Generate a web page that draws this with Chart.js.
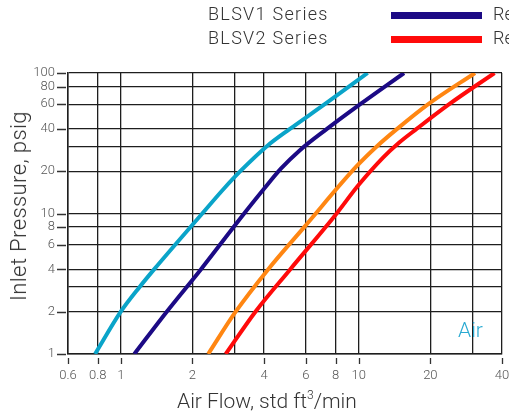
<!DOCTYPE html>
<html lang="en">
<head>
    <meta charset="UTF-8">
    <title>BLSV Air Flow</title>
    <script src="https://cdn.jsdelivr.net/npm/chart.js@4.4.0/dist/chart.umd.min.js"></script>
    <style>
        body {
            margin: 0;
            width: 509px;
            height: 416px;
            overflow: hidden;
            position: relative;
            background: #fff;
            font-family: Roboto, "Liberation Sans", Arial, sans-serif;
            font-weight: 300;
            color: #333;
        }
        canvas {
            position: absolute;
            left: 0;
            top: 0;
        }
        .txt {
            position: absolute;
            white-space: nowrap;
            line-height: 1;
        }
        .legend-line {
            position: absolute;
            height: 7px;
        }
    </style>
</head>
<body>
    <canvas id="flowChart" width="509" height="416"></canvas>

    <div class="txt" style="left:208px; top:5px; font-size:18px; letter-spacing:1.3px;">BLSV1 Series</div>
    <div class="txt" style="left:208px; top:29px; font-size:18px; letter-spacing:1.3px;">BLSV2 Series</div>
    <div class="legend-line" style="left:391px; top:12px; width:91px; background:#1c0a85;"></div>
    <div class="legend-line" style="left:391px; top:36px; width:91px; background:#ff0a0a;"></div>
    <div class="txt" style="left:493px; top:5px; font-size:18px;">Re</div>
    <div class="txt" style="left:493px; top:29px; font-size:18px;">Re</div>

    <div class="txt" style="left:458px; top:320px; font-size:21px; color:#2aaad2;">Air</div>

    <div class="txt" style="left:19px; top:206px; font-size:22px; letter-spacing:0.4px; transform:translate(-50%,-50%) rotate(-90deg);">Inlet Pressure, psig</div>
    <div class="txt" style="left:177px; top:389px; font-size:21px;">Air Flow, std ft<sup style="font-size:12px; vertical-align:9px;">3</sup>/min</div>

    <script>
        // axis ticks
        var xTickValues = [0.6, 0.8, 1, 2, 3, 4, 6, 8, 10, 20, 30, 40];
        var xTickLabels = ['0.6', '0.8', '1', '2', '', '4', '6', '8', '10', '20', '', '40'];
        var yTickValues = [1, 2, 3, 4, 6, 8, 10, 20, 30, 40, 60, 80, 100];
        var yTickLabels = ['1', '2', '', '4', '6', '8', '10', '20', '', '40', '60', '80', '100'];

        // curves (flow in scfm, pressure in psig)
        var cyanFlow = [0.78, 1.0, 1.2, 1.38, 2.2, 2.71, 3.18, 4.1, 5.14, 7.2, 10.9];
        var cyanPress = [1, 2, 3, 4, 10, 15, 20, 30, 40, 60, 100];
        var navyFlow = [1.14, 1.56, 2.17, 3.3, 4.0, 4.73, 5.63, 7.35, 10.15, 15.5];
        var navyPress = [1, 2, 4, 10, 15, 21, 28, 40, 60, 100];
        var orangeFlow = [2.33, 3.04, 4.16, 5.9, 9.8, 11.9, 14.5, 19.6, 30.8];
        var orangePress = [1, 2, 4, 8, 21.7, 30, 40, 60, 100];
        var redFlow = [2.76, 3.68, 5.15, 8.0, 10.0, 12.65, 14.8, 17.5, 24.0, 37.2];
        var redPress = [1, 2, 4, 9.8, 16, 25, 32, 40, 60, 100];

        function pts(xs, ys) {
            return xs.map(function (x, i) { return { x: x, y: ys[i] }; });
        }

        function curve(xs, ys, color) {
            return {
                data: pts(xs, ys),
                borderColor: color,
                borderWidth: 4,
                pointRadius: 0,
                cubicInterpolationMode: 'monotone',
                fill: false,
                clip: 0
            };
        }

        // small tick marks set off from the axes
        var tickMarks = {
            id: 'tickMarks',
            afterDraw: function (chart) {
                var c = chart.ctx, a = chart.chartArea;
                var xs = chart.scales.x, ys = chart.scales.y;
                c.save();
                c.strokeStyle = '#333';
                c.lineWidth = 1.3;
                c.beginPath();
                xTickValues.forEach(function (v, i) {
                    if (!xTickLabels[i]) return;
                    var px = Math.round(xs.getPixelForValue(v)) + 0.5;
                    c.moveTo(px, a.bottom + 4);
                    c.lineTo(px, a.bottom + 10);
                });
                yTickValues.forEach(function (v, i) {
                    if (!yTickLabels[i]) return;
                    var py = Math.round(ys.getPixelForValue(v)) + 0.5;
                    c.moveTo(a.left - 11, py);
                    c.lineTo(a.left - 2, py);
                });
                c.stroke();
                c.restore();
            }
        };

        var gridColor = '#1e1e1e';
        var tickFont = { family: 'Roboto, "Liberation Sans", Arial, sans-serif', size: 13, weight: '300' };

        var ctx = document.getElementById('flowChart').getContext('2d');
        var flowChart = new Chart(ctx, {
            type: 'line',
            data: {
                datasets: [
                    curve(cyanFlow, cyanPress, '#0aa4c9'),
                    curve(navyFlow, navyPress, '#1c0a85'),
                    curve(orangeFlow, orangePress, '#ff8612'),
                    curve(redFlow, redPress, '#ff0a0a')
                ]
            },
            options: {
                responsive: false,
                animation: false,
                layout: { padding: { top: 73, right: 0, left: 0, bottom: 0 } },
                plugins: {
                    legend: { display: false },
                    tooltip: { enabled: false }
                },
                scales: {
                    x: {
                        type: 'logarithmic',
                        min: 0.6,
                        max: 40,
                        afterBuildTicks: function (s) {
                            s.ticks = xTickValues.map(function (v) { return { value: v }; });
                        },
                        afterFit: function (s) {
                            s.height = 62;
                            s.paddingRight = 7;
                            s.paddingLeft = 0;
                        },
                        grid: { color: gridColor, lineWidth: 1.3, drawTicks: false },
                        border: { color: gridColor, width: 1.5 },
                        ticks: {
                            autoSkip: false,
                            maxRotation: 0,
                            padding: 14,
                            color: '#555',
                            font: tickFont,
                            callback: function (v, i) { return xTickLabels[i]; }
                        }
                    },
                    y: {
                        type: 'logarithmic',
                        min: 1,
                        max: 100,
                        afterBuildTicks: function (s) {
                            s.ticks = yTickValues.map(function (v) { return { value: v }; });
                        },
                        afterFit: function (s) { s.width = 68; },
                        grid: { color: gridColor, lineWidth: 1.3, drawTicks: false },
                        border: { color: gridColor, width: 1.5 },
                        ticks: {
                            autoSkip: false,
                            padding: 13,
                            color: '#555',
                            font: tickFont,
                            callback: function (v, i) { return yTickLabels[i]; }
                        }
                    }
                }
            },
            plugins: [tickMarks]
        });
    </script>
</body>
</html>
